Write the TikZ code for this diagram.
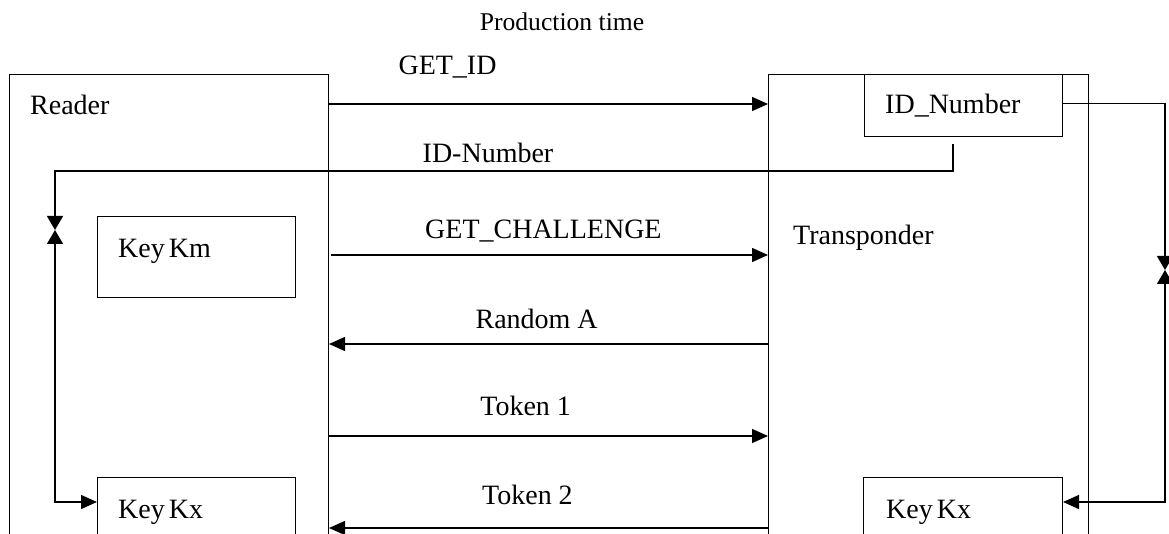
\documentclass[tikz,border=0pt]{standalone}
\usepackage{fontspec}
\setmainfont{Liberation Serif}
\usetikzlibrary{arrows.meta,positioning}

\tikzset{
  blk/.style={draw,black,line width=1pt,inner sep=0pt,anchor=north west},
  txt/.style={inner sep=0pt,anchor=base west,font=\fontsize{28}{31}\selectfont},
  tip/.style={Triangle[length=16pt,width=14pt]},
  msg/.style={black,line width=1.4pt,-{Triangle[length=16pt,width=14pt]}},
  bow/.style={black,line width=1.4pt,{Triangle[length=14pt,width=16pt]}-{Triangle[length=16pt,width=14pt]}}
}

\begin{document}
\begin{tikzpicture}[x=1pt,y=-1pt]
	\useasboundingbox (0,0) rectangle (1169,534);
	\clip (0,0) rectangle (1169,534);
	% the two parties and their stores
	\node [blk,minimum width=319pt,minimum height=520pt] (reader) at (9,74) {};
	\node [blk,minimum width=320pt,minimum height=520pt] (trans) at (768,74) {};
	\node [blk,minimum width=198pt,minimum height=62pt] (idnum) at (864,74) {};
	\node [blk,minimum width=198pt,minimum height=81pt] (keym) at (97,216) {};
	\node [blk,minimum width=198pt,minimum height=100pt] (keyxl) at (97,477) {};
	\node [blk,minimum width=199pt,minimum height=100pt] (keyxr) at (863,477) {};
	\node [txt] (readerlbl) at (30,115) {Reader};
	\node [txt] (translbl) at (793,245) {Transponder};
	\node [txt] (idnumlbl) at (885,114) {ID\_Number};
	\node [txt] (keymlbl) at (118,258) {Key\hspace{4pt}Km};
	\node [txt] (keyxllbl) at (118,518) {Key\hspace{4pt}Kx};
	\node [txt] (keyxrlbl) at (886,518) {Key\hspace{4pt}Kx};
	\node [txt,anchor=base,font=\fontsize{25.6}{28}\selectfont] (prodlbl) at (562,31) {Production time};
	% messages
	\draw [msg] ([yshift=-30pt]reader.north east) -- ([yshift=-30pt]trans.north west)
		node [txt,anchor=base,pos=0.27,yshift=29pt] {GET\_ID};
	\draw [msg] ([xshift=2pt,yshift=-181pt]reader.north east) -- ([yshift=-181pt]trans.north west)
		node [txt,anchor=base,pos=0.486,yshift=16pt] {GET\_CHALLENGE};
	\draw [msg] ([yshift=-270pt]trans.north west) -- ([yshift=-270pt]reader.north east)
		node [txt,anchor=base,pos=0.527,yshift=16pt] {Random A};
	\draw [msg] ([yshift=-362pt]reader.north east) -- ([yshift=-362pt]trans.north west)
		node [txt,anchor=base,pos=0.448,yshift=21pt] {Token 1};
	\draw [msg] ([yshift=-454pt]trans.north west) -- ([yshift=-454pt]reader.north east)
		node [txt,anchor=base,pos=0.548,yshift=24pt] {Token 2};
	% key derivation paths
	\coordinate (lbow) at (55,230);
	\coordinate (rbow) at (1165,270);
	\draw [black,line width=1.4pt,-{Triangle[length=14pt,width=16pt]}] ([xshift=89pt,yshift=-7pt]idnum.south west) -- ++(0,27) -| (lbow);
	\node [txt,anchor=base] (idlbl) at (488,163) {ID-Number};
	\draw [bow] (lbow) |- ([yshift=-25pt]keyxl.north west);
	\draw [black,line width=1.4pt,-{Triangle[length=14pt,width=16pt]}] ([yshift=2pt]idnum.east) -| (rbow);
	\draw [bow] (rbow) |- ([yshift=-25pt]keyxr.north east);
\end{tikzpicture}
\end{document}
